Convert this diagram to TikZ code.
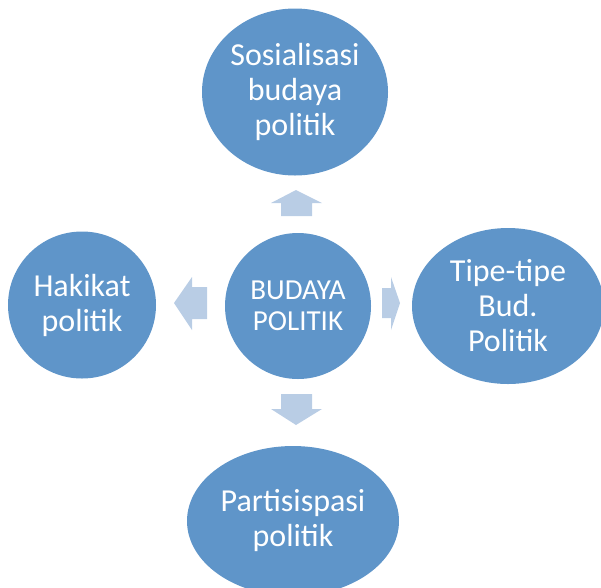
\documentclass[tikz,border=0pt]{standalone}
\usepackage{fontspec}
\setmainfont{Carlito}
\usepackage{tikz}
\usetikzlibrary{shapes.geometric}
\usepackage{xcolor}
\definecolor{bubblefill}{HTML}{5F95C9}
\definecolor{arrowfill}{HTML}{B9CDE5}

\begin{document}
\begin{tikzpicture}[x=1pt,y=-1pt,
  bubble/.style={ellipse,fill=bubblefill,text=white,align=center,inner sep=0pt,
    font=\fontsize{32}{35}\selectfont},
  blockarrow/.style={fill=arrowfill}]
  \useasboundingbox (0,0) rectangle (601,587);
  % the five bubbles
  \node[bubble,minimum width=146pt,minimum height=146pt,font=\fontsize{29}{31}\selectfont] (budaya) at (298,306) {BUDAYA\\POLITIK};
  \node[bubble,minimum width=186pt,minimum height=167pt] (sosialisasi) at (295,92) {Sosialisasi\\budaya\\politik};
  \node[bubble,minimum width=148pt,minimum height=147pt] (hakikat) at (82,305) {Hakikat\\politik};
  \node[bubble,minimum width=192pt,minimum height=156pt] (tipe) at (508,306) {Tipe-tipe\\Bud.\\Politik};
  \node[bubble,minimum width=212pt,minimum height=150pt] (partisipasi) at (293,521) {Partisispasi\\politik};
  % block arrows
  \fill[blockarrow] (281,216) -- (281,203) -- (271,203) -- (296,190) -- (322,203) -- (312,203) -- (312,216) -- cycle;
  \fill[blockarrow] (281,394) -- (312,394) -- (312,409) -- (322,409) -- (296,425) -- (271,409) -- (281,409) -- cycle;
  \fill[blockarrow] (207,287) -- (192,287) -- (192,277) -- (174,303) -- (192,330) -- (192,319) -- (207,319) -- cycle;
  \fill[blockarrow] (382,288) -- (391,288) -- (391,277) -- (400,303) -- (391,330) -- (391,318) -- (382,318) -- cycle;
\end{tikzpicture}
\end{document}
